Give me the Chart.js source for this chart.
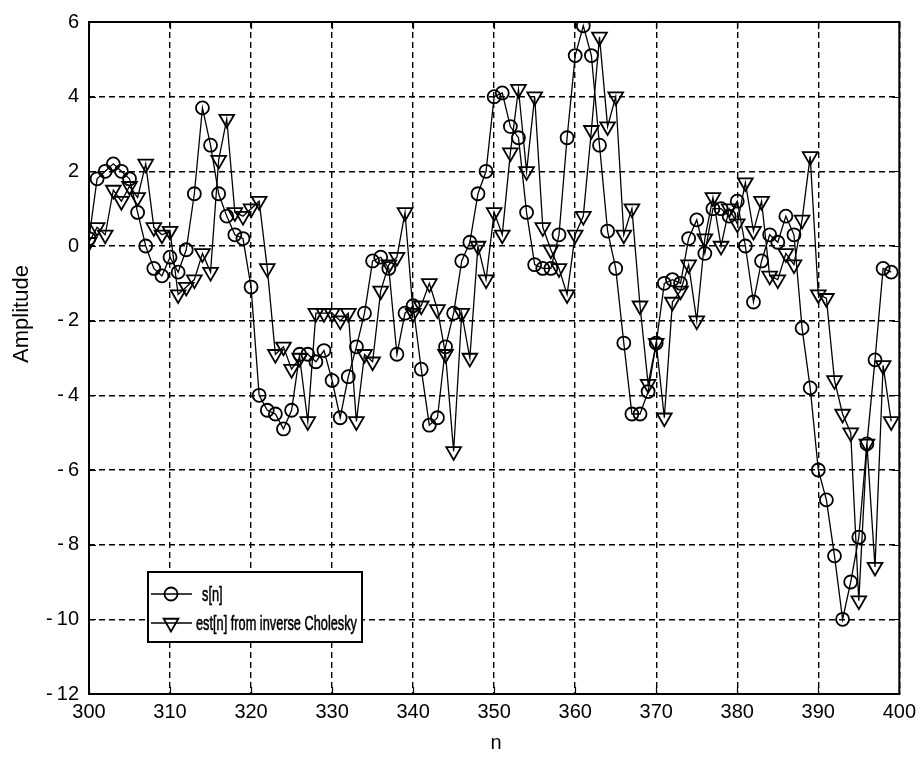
<!DOCTYPE html>
<html>
<head>
<meta charset="utf-8">
<title>s[n] vs est[n]</title>
<script src="https://cdn.jsdelivr.net/npm/chart.js@4.4.1/dist/chart.umd.min.js"></script>
<style>
  html, body { margin: 0; padding: 0; background: #fff; }
  #wrap { width: 922px; height: 759px; }
</style>
</head>
<body>
<div id="wrap"><canvas id="chart" width="922" height="759"></canvas></div>
<script>
// sample index of the first point, one point per sample after that
const startN = 300;

// s[n] (circles)
const sValues = [
    0.2, 1.8, 2.0, 2.2, 2.0, 1.8, 0.9, 0.0, -0.6, -0.8,
    -0.3, -0.7, -0.1, 1.4, 3.7, 2.7, 1.4, 0.8, 0.3, 0.2,
    -1.1, -4.0, -4.4, -4.5, -4.9, -4.4, -2.9, -2.9, -3.1, -2.8,
    -3.6, -4.6, -3.5, -2.7, -1.8, -0.4, -0.3, -0.6, -2.9, -1.8,
    -1.6, -3.3, -4.8, -4.6, -2.7, -1.8, -0.4, 0.1, 1.4, 2.0,
    4.0, 4.1, 3.2, 2.9, 0.9, -0.5, -0.6, -0.6, 0.3, 2.9,
    5.1, 5.9, 5.1, 2.7, 0.4, -0.6, -2.6, -4.5, -4.5, -3.9,
    -2.6, -1.0, -0.9, -1.0, 0.2, 0.7, -0.2, 1.0, 1.0, 0.8,
    1.2, 0.0, -1.5, -0.4, 0.3, 0.1, 0.8, 0.3, -2.2, -3.8,
    -6.0, -6.8, -8.3, -10.0, -9.0, -7.8, -5.3, -3.05, -0.6, -0.7
];

// est[n] from inverse Cholesky (triangles)
const estValues = [
    0.1, 0.5, 0.3, 1.5, 1.2, 1.6, 1.3, 2.2, 0.5, 0.3,
    0.4, -1.3, -1.1, -0.9, -0.2, -0.7, 2.3, 3.4, 0.9, 0.8,
    1.0, 1.2, -0.6, -2.9, -2.7, -3.3, -3.0, -4.7, -1.8, -1.8,
    -1.8, -2.0, -1.8, -4.7, -2.9, -3.1, -1.2, -0.5, -0.3, 0.9,
    -1.8, -1.6, -1.0, -1.7, -2.9, -5.5, -1.8, -3.0, 0.0, -0.9,
    0.9, 0.3, 2.5, 4.2, 2.0, 4.0, 0.5, -0.1, -0.6, -1.3,
    0.3, 0.8, 3.1, 5.6, 3.2, 4.0, 0.3, 1.0, -1.6, -3.7,
    -2.6, -4.6, -1.5, -1.2, -0.5, -2.0, 0.2, 1.3, 0.0, 1.0,
    0.6, 1.7, 0.4, 1.2, -0.8, -0.9, -0.2, -0.5, 0.7, 2.4,
    -1.3, -1.4, -3.6, -4.5, -5.0, -9.5, -5.3, -8.6, -3.2, -4.7
];

const xTicks = [300, 310, 320, 330, 340, 350, 360, 370, 380, 390, 400];
const yTicks = [-12, -10, -8, -6, -4, -2, 0, 2, 4, 6];

const seriesNames = ['s[n]', 'est[n] from inverse Cholesky'];
const xTitle = 'n';
const yTitle = 'Amplitude';

const FONT = "'Liberation Sans', Arial, sans-serif";

function toPoints(values) {
    return values.map((v, i) => ({ x: startN + i, y: v }));
}

// matlab prints a short dash and a small gap before negative numbers
function tickText(v) {
    return v < 0 ? '-\u2009' + Math.abs(v) : String(v);
}

const circleStyle = {
    pointStyle: 'circle',
    radius: 6.5,
    rotation: 0,
    borderWidth: 1.8
};
const triangleStyle = {
    pointStyle: 'triangle',
    radius: 8.5,
    rotation: 180,
    borderWidth: 1.8
};

// box, inward ticks, axis titles and legend, MATLAB look
const matlabFrame = {
    id: 'matlabFrame',
    afterDraw(chart) {
        const ctx = chart.ctx;
        const area = chart.chartArea;
        const xs = chart.scales.x;
        const ys = chart.scales.y;

        ctx.save();
        ctx.strokeStyle = '#000';
        ctx.lineWidth = 2;
        ctx.setLineDash([]);
        ctx.strokeRect(area.left, area.top, area.right - area.left, area.bottom - area.top);

        ctx.lineWidth = 1.2;
        ctx.beginPath();
        xTicks.forEach(t => {
            const px = Math.round(xs.getPixelForValue(t)) + 0.5;
            ctx.moveTo(px, area.bottom); ctx.lineTo(px, area.bottom - 7);
            ctx.moveTo(px, area.top); ctx.lineTo(px, area.top + 7);
        });
        yTicks.forEach(t => {
            const py = Math.round(ys.getPixelForValue(t)) + 0.5;
            ctx.moveTo(area.left, py); ctx.lineTo(area.left + 7, py);
            ctx.moveTo(area.right, py); ctx.lineTo(area.right - 7, py);
        });
        ctx.stroke();

        // axis titles
        ctx.fillStyle = '#000';
        ctx.font = '20px ' + FONT;
        ctx.textAlign = 'center';
        ctx.textBaseline = 'middle';
        ctx.fillText(xTitle, (area.left + area.right) / 2 + 2, 743);
        ctx.save();
        ctx.translate(22, 314);
        ctx.rotate(-Math.PI / 2);
        ctx.font = '22px ' + FONT;
        ctx.fillText(yTitle, 0, 0);
        ctx.restore();

        // legend
        const lx = 148, ly = 572, lw = 214, lh = 70;
        ctx.fillStyle = '#fff';
        ctx.fillRect(lx, ly, lw, lh);
        ctx.lineWidth = 2;
        ctx.strokeRect(lx, ly, lw, lh);

        const rows = [
            { y: 594, text: seriesNames[0], textX: 202, marker: circleStyle },
            { y: 623, text: seriesNames[1], textX: 196, marker: triangleStyle }
        ];
        ctx.font = '21px ' + FONT;
        ctx.textAlign = 'left';
        // the scanned legend text is narrow: squeeze it to the box
        const squeeze = 161 / ctx.measureText(seriesNames[1]).width;
        rows.forEach(r => {
            ctx.strokeStyle = '#000';
            ctx.lineWidth = 1.3;
            ctx.beginPath();
            ctx.moveTo(151, r.y);
            ctx.lineTo(192, r.y);
            ctx.stroke();
            ctx.lineWidth = r.marker.borderWidth;
            ctx.fillStyle = 'rgba(0,0,0,0)';
            Chart.helpers.drawPoint(ctx, r.marker, 171, r.y);
            ctx.fillStyle = '#000';
            ctx.save();
            ctx.translate(r.textX, r.y + 1);
            ctx.scale(squeeze, 1);
            ctx.lineWidth = 0.6;
            ctx.fillText(r.text, 0, 0);
            ctx.strokeText(r.text, 0, 0);
            ctx.restore();
        });
        ctx.restore();
    }
};

const chart = new Chart(document.getElementById('chart'), {
    type: 'line',
    data: {
        datasets: [
            {
                label: seriesNames[0],
                data: toPoints(sValues),
                borderColor: '#000',
                borderWidth: 1.3,
                backgroundColor: 'rgba(0,0,0,0)',
                pointStyle: circleStyle.pointStyle,
                pointRadius: circleStyle.radius,
                pointBorderWidth: circleStyle.borderWidth,
                pointBorderColor: '#000',
                pointBackgroundColor: 'rgba(0,0,0,0)',
                tension: 0,
                fill: false
            },
            {
                label: seriesNames[1],
                data: toPoints(estValues),
                borderColor: '#000',
                borderWidth: 1.3,
                backgroundColor: 'rgba(0,0,0,0)',
                pointStyle: triangleStyle.pointStyle,
                pointRotation: triangleStyle.rotation,
                pointRadius: triangleStyle.radius,
                pointBorderWidth: triangleStyle.borderWidth,
                pointBorderColor: '#000',
                pointBackgroundColor: 'rgba(0,0,0,0)',
                tension: 0,
                fill: false
            }
        ]
    },
    options: {
        responsive: false,
        animation: false,
        devicePixelRatio: 1,
        layout: {
            padding: { left: 0, right: 17, top: 20, bottom: 0 }
        },
        plugins: {
            legend: { display: false },
            tooltip: { enabled: false },
            title: { display: false }
        },
        scales: {
            x: {
                type: 'linear',
                min: 300,
                max: 400,
                afterFit: scale => { scale.height = 65; },
                afterBuildTicks: scale => { scale.ticks = xTicks.map(v => ({ value: v })); },
                ticks: {
                    color: '#000',
                    padding: 6,
                    maxRotation: 0,
                    font: { family: FONT, size: 20 },
                    callback: v => tickText(v)
                },
                grid: { color: '#000', lineWidth: 1.4, drawTicks: false },
                border: { display: false, dash: [6, 4] }
            },
            y: {
                type: 'linear',
                min: -12,
                max: 6,
                afterFit: scale => { scale.width = 89; },
                afterBuildTicks: scale => { scale.ticks = yTicks.map(v => ({ value: v })); },
                ticks: {
                    color: '#000',
                    padding: 10,
                    font: { family: FONT, size: 20 },
                    callback: v => tickText(v)
                },
                grid: { color: '#000', lineWidth: 1.4, drawTicks: false },
                border: { display: false, dash: [6, 4] }
            }
        }
    },
    plugins: [matlabFrame]
});
</script>
</body>
</html>
